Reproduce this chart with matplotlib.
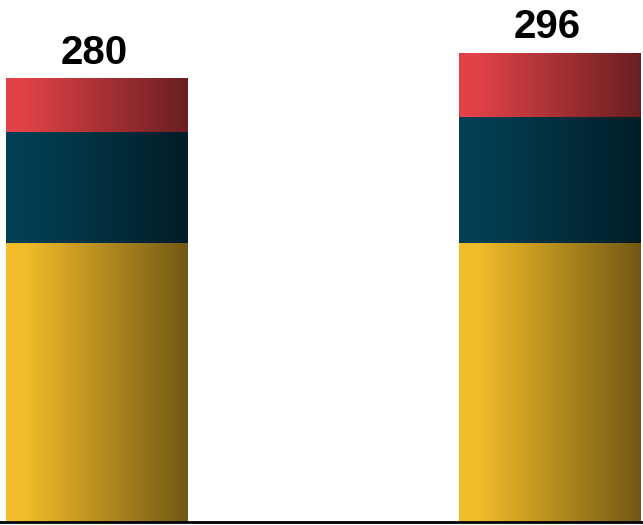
import numpy as np
import matplotlib
matplotlib.use("Agg")
import matplotlib.pyplot as plt
from matplotlib.colors import to_rgb

# Stacked totals per group
categories = ["A", "B"]
base_values = [176, 176]     # yellow segment
middle_values = [70, 80]     # dark blue segment
top_values = [34, 40]        # red segment
totals = [280, 296]

segment_colors = ["#F2BC2A", "#033F54", "#E04247"]

fig = plt.figure(figsize=(6.43, 5.25), dpi=100)
ax = fig.add_axes([0, 3 / 525, 1, 1 - 3 / 525])

x = np.arange(len(categories))
width = 0.402


def shade_strip(color, n=256):
    """Horizontal strip that keeps the colour on the left and darkens to the right."""
    t = np.linspace(0, 1, n)
    f = np.where(t < 0.1, 1.0, 1.0 - (t - 0.1) / 0.9 * 0.53)
    rgb = np.array(to_rgb(color))
    return (f[:, None] * rgb[None, :])[None, :, :]


bottom = np.zeros(len(categories))
for vals, col in zip([base_values, middle_values, top_values], segment_colors):
    bars = ax.bar(x, vals, width, bottom=bottom, color="none", edgecolor="none")
    for rect in bars:
        x0, y0 = rect.get_x(), rect.get_y()
        ax.imshow(shade_strip(col), extent=[x0, x0 + rect.get_width(), y0, y0 + rect.get_height()],
                  aspect="auto", interpolation="bilinear", zorder=2)
    bottom += np.array(vals)

for xi, tot in zip(x, totals):
    ax.annotate(f"{tot}", (xi, tot), xytext=(-2, 5), textcoords="offset points",
                ha="center", va="bottom", fontsize=29, fontweight="bold",
                family="Liberation Sans", color="black")

ax.set_xlim(-0.2144, 1.2066)
ax.set_ylim(0, 329.6)
for side in ["top", "right", "left"]:
    ax.spines[side].set_visible(False)
ax.spines["bottom"].set_linewidth(2)
ax.spines["bottom"].set_color("black")
ax.spines["bottom"].set_zorder(3)
ax.set_xticks([])
ax.set_yticks([])
ax.patch.set_visible(False)

fig.savefig("out.png", dpi=100, facecolor="white")
